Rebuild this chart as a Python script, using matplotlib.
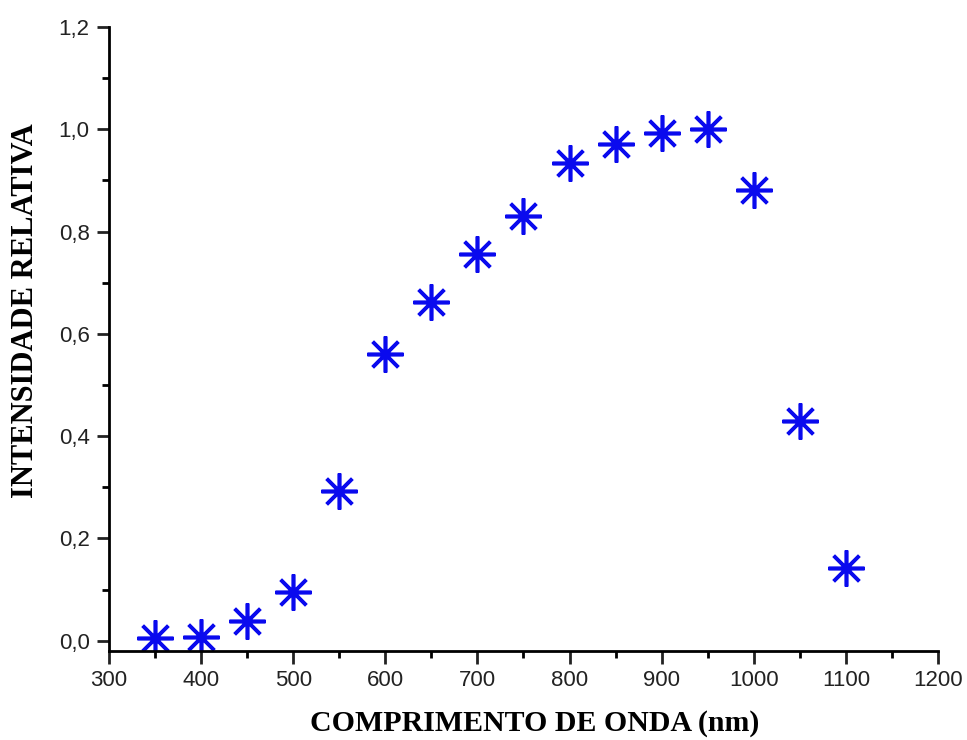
import matplotlib.pyplot as plt
from matplotlib.ticker import MultipleLocator, FuncFormatter

comprimento = [350, 400, 450, 500, 550, 600, 650, 700, 750, 800, 850, 900, 950, 1000, 1050, 1100]
intensidade = [0.006, 0.008, 0.039, 0.096, 0.293, 0.561, 0.663, 0.757, 0.831, 0.935,
               0.972, 0.993, 1.0, 0.882, 0.429, 0.142]

fig = plt.figure(figsize=(9.67, 7.4), dpi=100)
ax = fig.add_axes([0.1127, 0.1203, 0.8573, 0.8432])

ax.plot(comprimento, intensidade, linestyle="none", marker=(8, 2, 0), markersize=26,
        markeredgewidth=2.6, color="#0a0aee")

ax.set_xlim(300, 1200)
ax.set_ylim(-0.02, 1.2)
ax.xaxis.set_major_locator(MultipleLocator(100))
ax.xaxis.set_minor_locator(MultipleLocator(50))
ax.yaxis.set_major_locator(MultipleLocator(0.2))
ax.yaxis.set_minor_locator(MultipleLocator(0.1))
ax.yaxis.set_major_formatter(FuncFormatter(lambda v, p: f"{v:.1f}".replace(".", ",")))

for s in ["top", "right"]:
    ax.spines[s].set_visible(False)
for s in ["left", "bottom"]:
    ax.spines[s].set_linewidth(2)

ax.tick_params(which="major", direction="out", length=9, width=2, labelsize=16,
               labelfontfamily="Liberation Sans", pad=5, colors="#222222")
ax.tick_params(which="minor", direction="out", length=5, width=2)

ax.set_xlabel("COMPRIMENTO DE ONDA (nm)", family="Liberation Serif", weight="bold",
              fontsize=21.5)
ax.set_ylabel("INTENSIDADE RELATIVA", family="Liberation Serif", weight="bold",
              fontsize=22)
ax.xaxis.set_label_coords(0.513, -0.094)
ax.yaxis.set_label_coords(-0.083, 0.546)

fig.savefig("out.png", dpi=100)
